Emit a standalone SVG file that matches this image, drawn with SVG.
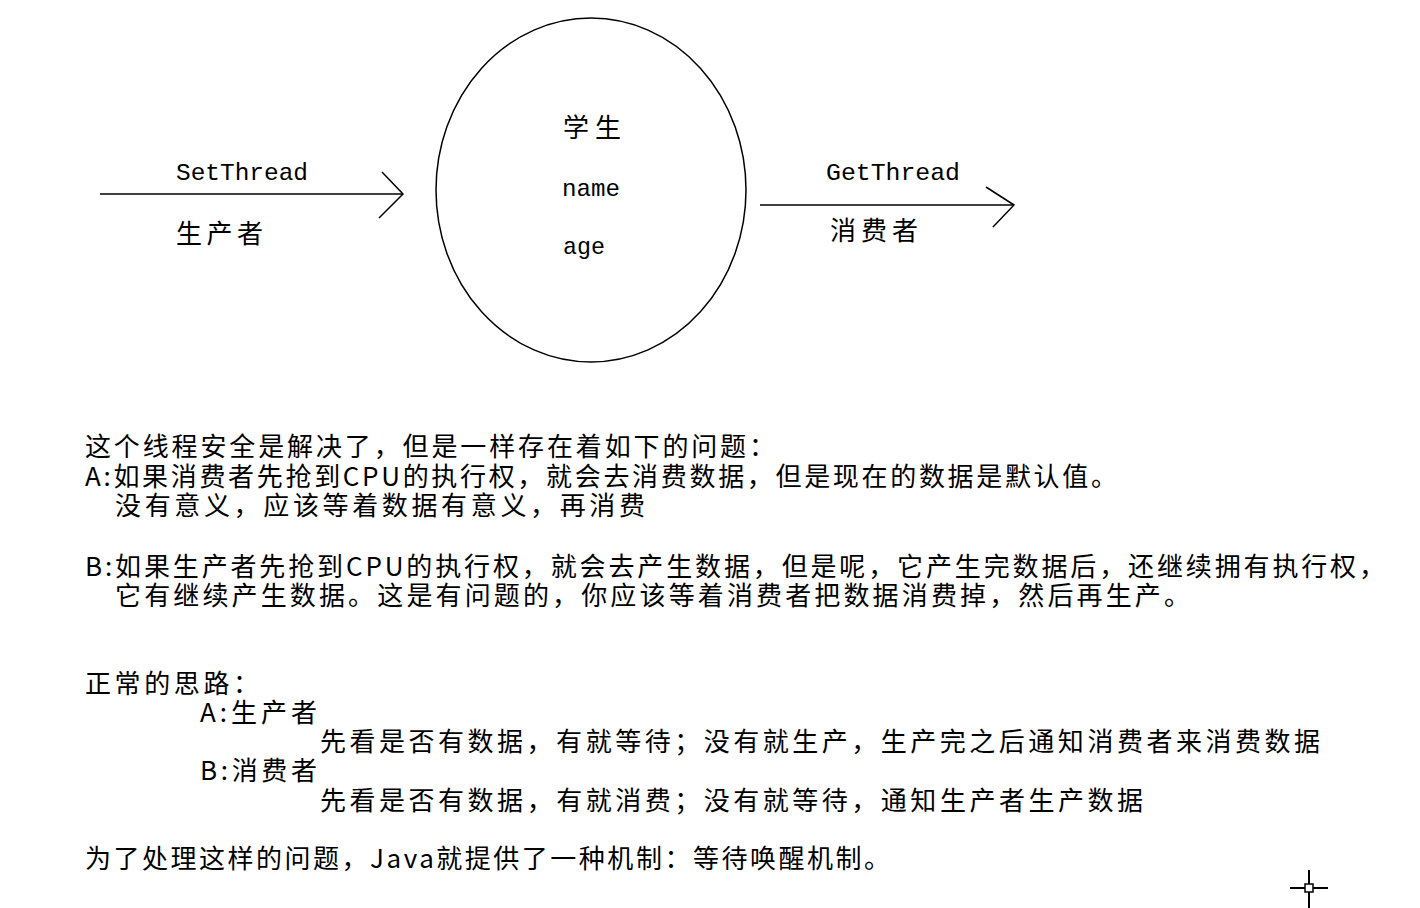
<svg xmlns="http://www.w3.org/2000/svg" width="1420" height="908" viewBox="0 0 1420 908">
<style>
.cn{font-family:"Noto Sans CJK SC","Liberation Sans",sans-serif;font-size:26px;fill:#000}
.mono{font-family:"Liberation Mono","DejaVu Sans Mono",monospace;font-size:24px;fill:#000}
.ln{stroke:#000;stroke-width:1.5;fill:none}
</style>
<rect width="1420" height="908" fill="#fff"/>
<g id="connectors">
<g id="set-arrow">
<line class="ln" x1="100" y1="194" x2="403" y2="194"/>
<polyline class="ln" points="382,172 403,194 379,218"/>
</g>
<g id="get-arrow">
<line class="ln" x1="760" y1="205" x2="1014" y2="205"/>
<polyline class="ln" points="986,187 1014,205 993,227"/>
</g>
</g>
<g id="set-label">
<text class="mono" x="176" y="180" textLength="132" lengthAdjust="spacingAndGlyphs">SetThread</text>
<text class="cn" x="176" y="243" textLength="87">生产者</text>
</g>
<g id="student">
<ellipse class="ln" cx="591" cy="190" rx="155" ry="172"/>
<text class="cn" x="563" y="137" textLength="58">学生</text>
<text class="mono" x="562" y="196" textLength="58" lengthAdjust="spacingAndGlyphs">name</text>
<text class="mono" x="563" y="254" textLength="42" lengthAdjust="spacingAndGlyphs">age</text>
</g>
<g id="get-label">
<text class="mono" x="826" y="180" textLength="134" lengthAdjust="spacingAndGlyphs">GetThread</text>
<text class="cn" x="830" y="240" textLength="88">消费者</text>
</g>
<g id="notes">
<text class="cn" x="85" y="456" textLength="690">这个线程安全是解决了，但是一样存在着如下的问题：</text>
<text class="cn" x="85" y="486" textLength="1032">A:如果消费者先抢到CPU的执行权，就会去消费数据，但是现在的数据是默认值。</text>
<text class="cn" x="115" y="515" textLength="530">没有意义，应该等着数据有意义，再消费</text>
<text class="cn" x="85" y="576" textLength="1300">B:如果生产者先抢到CPU的执行权，就会去产生数据，但是呢，它产生完数据后，还继续拥有执行权，</text>
<text class="cn" x="115" y="605" textLength="1075">它有继续产生数据。这是有问题的，你应该等着消费者把数据消费掉，然后再生产。</text>
<text class="cn" x="85" y="693" textLength="174">正常的思路：</text>
<text class="cn" x="200" y="722" textLength="117">A:生产者</text>
<text class="cn" x="320" y="751" textLength="1000">先看是否有数据，有就等待；没有就生产，生产完之后通知消费者来消费数据</text>
<text class="cn" x="200" y="780" textLength="117">B:消费者</text>
<text class="cn" x="320" y="810" textLength="823">先看是否有数据，有就消费；没有就等待，通知生产者生产数据</text>
<text class="cn" x="85" y="868" textLength="805">为了处理这样的问题，Java就提供了一种机制：等待唤醒机制。</text>
</g>
<g id="cursor">
<line stroke="#000" stroke-width="2" x1="1290" y1="888" x2="1328" y2="888"/>
<line stroke="#000" stroke-width="2" x1="1309" y1="870" x2="1309" y2="908"/>
<rect x="1305" y="884" width="8" height="8" fill="#fff" stroke="#000" stroke-width="1.5"/>
</g>
</svg>
